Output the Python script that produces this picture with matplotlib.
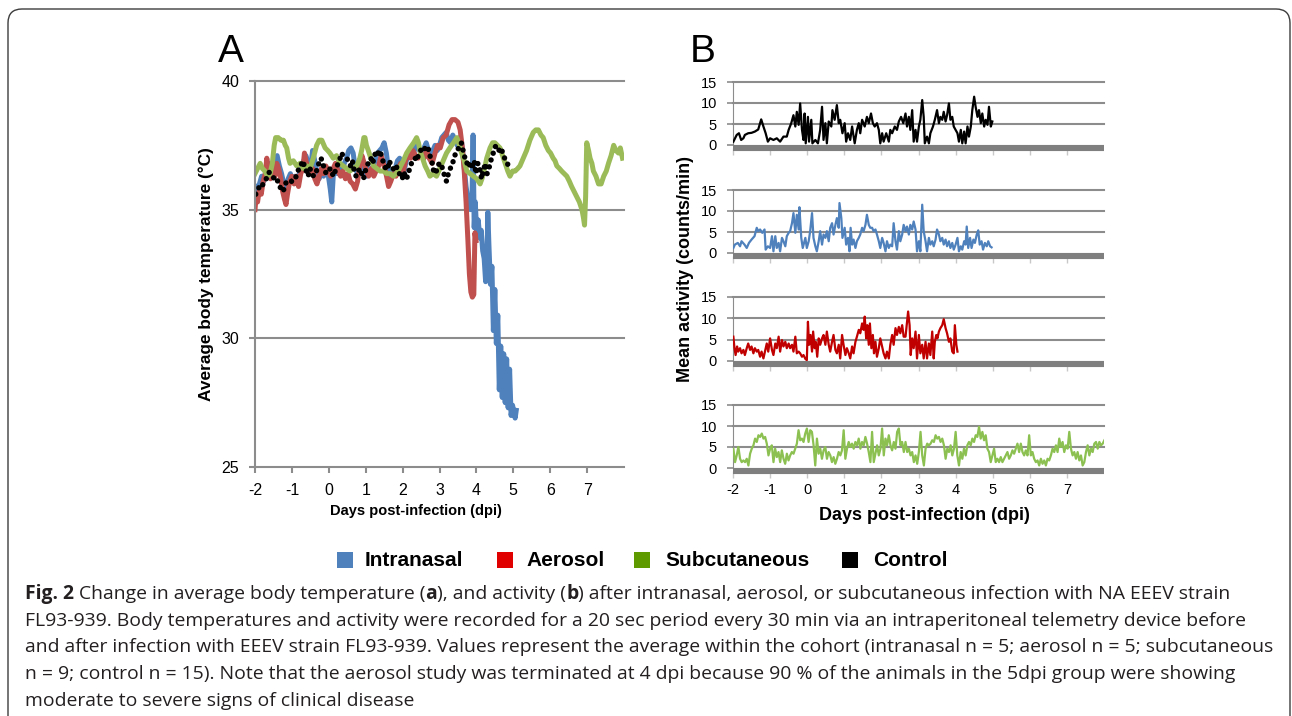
import numpy as np
import matplotlib
matplotlib.use("Agg")
import matplotlib.pyplot as plt
from matplotlib.patches import FancyBboxPatch, Rectangle
from matplotlib.transforms import IdentityTransform

# ---------------------------------------------------------------- data
# Average body temperature (deg C): columns = day post-infection, value
temp_intranasal = np.array([
    (-2.00, 35.9), (-1.94, 35.7), (-1.88, 36.0), (-1.82, 36.3), (-1.76, 36.1), (-1.70, 36.6),
    (-1.64, 36.4), (-1.58, 36.8), (-1.52, 36.6), (-1.46, 37.0), (-1.40, 37.1), (-1.34, 36.7),
    (-1.28, 36.4), (-1.22, 36.0), (-1.16, 35.9), (-1.10, 36.2), (-1.04, 36.4), (-0.98, 36.1),
    (-0.92, 36.3), (-0.86, 36.0), (-0.80, 36.4), (-0.74, 36.6), (-0.68, 36.9), (-0.62, 37.1),
    (-0.56, 36.8), (-0.50, 36.5), (-0.44, 37.3), (-0.38, 36.9), (-0.32, 36.4), (-0.26, 36.2),
    (-0.20, 36.5), (-0.14, 36.3), (-0.08, 36.6), (-0.02, 36.4), (0.04, 35.8), (0.08, 35.3),
    (0.12, 36.3), (0.18, 36.6), (0.24, 36.4), (0.30, 36.7), (0.36, 36.5), (0.42, 36.8),
    (0.48, 37.0), (0.54, 37.3), (0.60, 37.4), (0.66, 37.2), (0.72, 36.6), (0.78, 36.4),
    (0.84, 36.9), (0.90, 37.0), (0.96, 36.6), (1.02, 36.3), (1.08, 36.6), (1.14, 36.4),
    (1.20, 36.7), (1.26, 36.9), (1.32, 37.2), (1.38, 37.3), (1.44, 37.4), (1.50, 37.6),
    (1.56, 37.2), (1.62, 36.5), (1.68, 36.2), (1.74, 36.4), (1.80, 36.6), (1.86, 36.9),
    (1.92, 37.0), (1.98, 36.7), (2.04, 36.5), (2.10, 36.9), (2.16, 37.1), (2.22, 37.3),
    (2.28, 37.1), (2.34, 37.4), (2.40, 37.5), (2.46, 37.3), (2.52, 37.1), (2.58, 37.4),
    (2.64, 37.6), (2.70, 37.3), (2.76, 37.0), (2.82, 37.3), (2.88, 37.5), (2.94, 37.3),
    (3.00, 37.5), (3.06, 37.8), (3.12, 37.9), (3.18, 38.0), (3.24, 37.7), (3.30, 37.6),
    (3.36, 37.9), (3.42, 37.7), (3.48, 37.5), (3.54, 37.8), (3.60, 37.6), (3.66, 36.8),
    (3.72, 35.9), (3.78, 35.3), (3.84, 35.0), (3.88, 35.4), (3.91, 37.9), (3.94, 34.3),
    (3.97, 35.3), (4.01, 34.0), (4.05, 34.6), (4.09, 33.9), (4.13, 34.2), (4.17, 33.4),
    (4.21, 33.1), (4.25, 32.2), (4.28, 32.7), (4.31, 34.9), (4.34, 33.6), (4.38, 32.1),
    (4.42, 32.8), (4.46, 30.3), (4.50, 31.9), (4.54, 29.8), (4.58, 30.9), (4.62, 28.0),
    (4.66, 29.7), (4.70, 27.7), (4.74, 29.4), (4.78, 27.5), (4.82, 29.2), (4.86, 27.3),
    (4.90, 28.8), (4.94, 27.0), (4.98, 27.4), (5.02, 27.1), (5.05, 26.9), (5.08, 27.2),
])

temp_aerosol = np.array([
    (-2.00, 35.0), (-1.97, 35.5), (-1.93, 35.3), (-1.88, 35.8), (-1.83, 35.6), (-1.78, 36.1),
    (-1.72, 36.4), (-1.68, 37.0), (-1.64, 36.6), (-1.58, 36.2), (-1.52, 36.5), (-1.46, 36.3),
    (-1.41, 36.8), (-1.36, 36.6), (-1.30, 36.2), (-1.25, 35.7), (-1.20, 35.4), (-1.16, 35.2),
    (-1.12, 35.6), (-1.06, 36.1), (-1.00, 36.3), (-0.94, 36.0), (-0.88, 36.3), (-0.82, 35.9),
    (-0.76, 36.4), (-0.70, 36.6), (-0.66, 37.2), (-0.62, 36.9), (-0.56, 36.6), (-0.50, 36.4),
    (-0.44, 36.6), (-0.38, 36.2), (-0.32, 36.0), (-0.26, 36.3), (-0.20, 36.6), (-0.14, 36.4),
    (-0.08, 36.7), (-0.02, 36.5), (0.05, 36.3), (0.12, 36.6), (0.18, 36.8), (0.25, 36.5),
    (0.32, 36.3), (0.38, 36.5), (0.45, 36.2), (0.52, 36.4), (0.58, 36.1), (0.65, 36.0),
    (0.72, 35.8), (0.78, 36.1), (0.84, 36.7), (0.90, 37.1), (0.96, 36.8), (1.02, 36.5),
    (1.08, 36.3), (1.15, 36.6), (1.22, 36.3), (1.28, 36.5), (1.35, 36.7), (1.42, 37.1),
    (1.48, 36.8), (1.55, 36.4), (1.62, 35.9), (1.68, 36.1), (1.75, 36.4), (1.82, 36.3),
    (1.88, 36.6), (1.95, 36.8), (2.02, 36.5), (2.08, 36.9), (2.15, 37.2), (2.22, 37.0),
    (2.28, 37.3), (2.35, 37.1), (2.42, 37.0), (2.50, 37.2), (2.58, 37.0), (2.65, 37.3),
    (2.72, 37.0), (2.80, 36.8), (2.88, 37.2), (2.95, 37.5), (3.02, 37.4), (3.10, 37.8),
    (3.18, 37.9), (3.26, 38.3), (3.34, 38.5), (3.42, 38.5), (3.50, 38.4), (3.56, 38.1),
    (3.62, 37.4), (3.67, 36.5), (3.72, 35.3), (3.77, 33.8), (3.81, 32.5), (3.85, 31.8),
    (3.89, 31.6), (3.93, 31.7), (3.96, 34.1), (3.99, 33.8),
])

temp_subcutaneous = np.array([
    (-2.00, 36.4), (-1.93, 36.6), (-1.86, 36.8), (-1.80, 36.6), (-1.73, 36.5), (-1.66, 36.3),
    (-1.59, 36.4), (-1.53, 36.8), (-1.48, 37.5), (-1.44, 37.8), (-1.37, 37.8), (-1.30, 37.7),
    (-1.23, 37.7), (-1.18, 37.5), (-1.14, 37.4), (-1.09, 37.0), (-1.05, 36.8), (-0.96, 36.9),
    (-0.87, 36.7), (-0.78, 36.8), (-0.69, 36.6), (-0.60, 36.7), (-0.51, 36.6), (-0.42, 37.0),
    (-0.33, 37.5), (-0.26, 37.7), (-0.19, 37.7), (-0.10, 37.4), (-0.03, 37.3), (0.03, 37.2),
    (0.12, 37.0), (0.21, 37.1), (0.30, 36.8), (0.39, 36.7), (0.48, 36.6), (0.57, 36.5),
    (0.66, 36.6), (0.76, 36.7), (0.84, 37.0), (0.89, 37.3), (0.95, 37.8), (0.98, 37.8),
    (1.02, 37.5), (1.07, 37.3), (1.14, 37.0), (1.21, 36.7), (1.30, 36.6), (1.39, 36.5),
    (1.48, 36.5), (1.57, 36.4), (1.66, 36.4), (1.75, 36.3), (1.82, 36.4), (1.88, 36.5),
    (1.95, 36.7), (2.02, 36.9), (2.11, 37.2), (2.20, 37.4), (2.30, 37.6), (2.38, 37.8),
    (2.43, 37.6), (2.47, 37.3), (2.54, 37.0), (2.61, 36.7), (2.68, 36.5), (2.74, 36.3),
    (2.83, 36.4), (2.92, 36.3), (3.01, 36.6), (3.10, 36.9), (3.19, 37.2), (3.28, 37.4),
    (3.38, 37.6), (3.47, 37.8), (3.54, 37.5), (3.60, 37.2), (3.67, 36.9), (3.74, 36.5),
    (3.83, 36.4), (3.92, 36.3), (4.01, 36.2), (4.10, 36.0), (4.15, 36.2), (4.19, 36.4),
    (4.28, 37.0), (4.37, 37.4), (4.44, 37.6), (4.50, 37.6), (4.57, 37.5), (4.64, 37.4),
    (4.71, 37.1), (4.78, 36.8), (4.85, 36.5), (4.91, 36.3), (4.98, 36.5), (5.05, 36.5),
    (5.12, 36.6), (5.18, 36.7), (5.27, 37.0), (5.36, 37.3), (5.45, 37.7), (5.54, 38.0),
    (5.61, 38.1), (5.68, 38.1), (5.75, 37.9), (5.81, 37.8), (5.88, 37.5), (5.95, 37.3),
    (6.01, 37.2), (6.08, 37.0), (6.13, 36.9), (6.18, 36.7), (6.25, 36.6), (6.31, 36.5),
    (6.38, 36.4), (6.45, 36.3), (6.52, 36.1), (6.58, 35.9), (6.65, 35.7), (6.72, 35.5),
    (6.79, 35.3), (6.86, 35.0), (6.90, 34.7), (6.93, 34.4), (6.96, 35.5), (6.99, 37.6),
    (7.04, 37.3), (7.08, 37.0), (7.13, 36.8), (7.17, 36.5), (7.24, 36.3), (7.31, 36.0),
    (7.38, 36.0), (7.45, 36.3), (7.52, 36.5), (7.58, 36.8), (7.65, 37.1), (7.72, 37.5),
    (7.78, 37.3), (7.85, 37.2), (7.90, 37.4), (7.96, 37.0),
])

temp_control = np.array([
    (-1.98, 35.6), (-1.93, 35.75), (-1.88, 35.9), (-1.83, 35.85), (-1.78, 36.0), (-1.72, 36.1),
    (-1.67, 36.3), (-1.62, 36.45), (-1.57, 36.4), (-1.52, 36.3), (-1.46, 36.15), (-1.41, 36.2),
    (-1.36, 36.0), (-1.31, 35.85), (-1.26, 35.7), (-1.21, 35.8), (-1.16, 36.05), (-1.11, 36.1),
    (-1.06, 36.15), (-1.01, 36.1), (-0.96, 36.2), (-0.91, 36.2), (-0.86, 36.4), (-0.81, 36.6),
    (-0.76, 36.7), (-0.71, 36.9), (-0.66, 36.7), (-0.61, 36.5), (-0.56, 36.3), (-0.51, 36.6),
    (-0.46, 36.4), (-0.41, 36.3), (-0.36, 36.4), (-0.31, 36.6), (-0.26, 36.85), (-0.21, 37.0),
    (-0.16, 36.8), (-0.11, 36.5), (-0.06, 36.4), (-0.01, 36.5), (0.04, 36.6), (0.09, 36.4),
    (0.14, 36.3), (0.19, 36.6), (0.24, 36.75), (0.29, 36.9), (0.34, 37.2), (0.39, 37.1),
    (0.44, 37.05), (0.49, 37.0), (0.54, 36.85), (0.59, 36.7), (0.64, 36.9), (0.69, 36.5),
    (0.74, 36.3), (0.79, 36.45), (0.84, 36.6), (0.89, 36.4), (0.94, 36.2), (0.99, 36.5),
    (1.04, 36.7), (1.09, 36.9), (1.14, 37.0), (1.19, 36.8), (1.24, 37.1), (1.29, 37.3),
    (1.34, 37.2), (1.39, 37.3), (1.44, 37.0), (1.49, 36.8), (1.54, 36.6), (1.59, 36.55),
    (1.64, 36.9), (1.69, 36.7), (1.74, 36.6), (1.79, 36.5), (1.84, 36.65), (1.89, 36.5),
    (1.94, 36.3), (1.99, 36.2), (2.04, 36.45), (2.09, 36.2), (2.14, 36.3), (2.19, 36.6),
    (2.24, 36.8), (2.29, 36.95), (2.34, 37.0), (2.39, 36.9), (2.44, 37.2), (2.49, 37.3),
    (2.54, 37.45), (2.59, 37.4), (2.64, 37.3), (2.69, 37.4), (2.74, 37.1), (2.79, 36.9),
    (2.84, 36.5), (2.89, 36.4), (2.94, 36.6), (2.99, 36.8), (3.04, 36.8), (3.09, 36.55),
    (3.14, 36.3), (3.19, 36.1), (3.24, 36.4), (3.29, 36.6), (3.34, 36.7), (3.39, 37.0),
    (3.44, 37.2), (3.49, 37.3), (3.54, 37.5), (3.59, 37.6), (3.64, 37.3), (3.69, 37.0),
    (3.74, 36.8), (3.79, 36.9), (3.84, 36.6), (3.89, 36.7), (3.94, 36.9), (3.99, 36.4),
    (4.04, 36.8), (4.09, 36.6), (4.14, 36.2), (4.19, 36.5), (4.24, 36.8), (4.29, 36.4),
    (4.34, 36.6), (4.39, 36.9), (4.44, 37.1), (4.49, 37.4), (4.54, 37.5), (4.59, 37.4),
    (4.64, 37.2), (4.69, 37.3), (4.74, 37.1), (4.79, 36.9), (4.84, 36.8), (4.89, 36.6),
])

# Mean activity (counts/min): columns = day post-infection, value
act_control = np.array([
    (-1.99, 0.8), (-1.90, 2.4), (-1.84, 2.8), (-1.78, 1.2), (-1.72, 1.6), (-1.68, 2.4), (-1.59, 2.8), (-1.50, 2.9),
    (-1.41, 3.2), (-1.32, 3.7), (-1.24, 6.1), (-1.18, 4.4), (-1.12, 2.8), (-1.06, 0.8), (-1.00, 1.6), (-0.91, 1.2),
    (-0.82, 1.6), (-0.73, 0.8), (-0.64, 2.0), (-0.55, 2.0), (-0.50, 3.6), (-0.43, 5.2), (-0.37, 7.1), (-0.32, 4.4),
    (-0.28, 7.9), (-0.23, 4.8), (-0.19, 9.9), (-0.14, 3.6), (-0.10, 1.2), (-0.07, 7.5), (-0.04, 0.4), (0.02, 6.7),
    (0.05, 0.8), (0.11, 6.0), (0.14, 0.4), (0.22, 1.2), (0.29, 0.4), (0.35, 3.6), (0.40, 9.1), (0.44, 1.2),
    (0.49, 5.2), (0.53, 0.4), (0.58, 5.6), (0.65, 4.4), (0.68, 8.3), (0.74, 6.0), (0.80, 9.5), (0.85, 5.2),
    (0.89, 6.0), (0.95, 2.8), (1.01, 5.2), (1.05, 0.8), (1.10, 2.8), (1.16, 1.2), (1.21, 4.4), (1.28, 0.4),
    (1.34, 3.6), (1.39, 5.2), (1.43, 2.8), (1.48, 6.0), (1.55, 4.4), (1.61, 6.7), (1.66, 5.2), (1.72, 7.5),
    (1.77, 5.2), (1.82, 4.4), (1.88, 5.2), (1.93, 3.6), (1.97, 0.4), (2.02, 2.8), (2.06, 0.8), (2.13, 2.8),
    (2.20, 0.8), (2.24, 3.6), (2.29, 2.8), (2.36, 4.4), (2.42, 3.6), (2.47, 5.6), (2.53, 6.7), (2.59, 5.2),
    (2.65, 7.5), (2.69, 4.4), (2.74, 6.7), (2.78, 3.6), (2.83, 8.3), (2.87, 0.8), (2.92, 3.6), (2.96, 0.8),
    (3.01, 4.4), (3.05, 6.0), (3.10, 10.7), (3.14, 6.7), (3.17, 0.4), (3.23, 2.0), (3.28, 0.4), (3.32, 2.8),
    (3.39, 4.4), (3.44, 6.0), (3.50, 8.3), (3.55, 5.2), (3.59, 6.7), (3.64, 6.0), (3.68, 7.9), (3.73, 5.6),
    (3.77, 7.1), (3.82, 9.9), (3.86, 6.0), (3.91, 6.7), (3.95, 4.4), (4.00, 3.6), (4.05, 2.8), (4.09, 0.8),
    (4.14, 3.6), (4.18, 0.4), (4.23, 3.2), (4.27, 0.4), (4.32, 4.4), (4.36, 2.0), (4.41, 4.4), (4.45, 8.3),
    (4.50, 11.5), (4.54, 9.1), (4.59, 6.7), (4.63, 8.3), (4.68, 5.2), (4.72, 7.5), (4.77, 4.4), (4.81, 6.0),
    (4.86, 4.8), (4.90, 9.1), (4.95, 4.4), (4.99, 5.6),
])

act_intranasal = np.array([
    (-1.99, 1.2), (-1.95, 2.0), (-1.87, 2.4), (-1.81, 1.6), (-1.77, 2.8), (-1.69, 2.0), (-1.63, 1.2), (-1.57, 2.4),
    (-1.50, 3.2), (-1.42, 4.0), (-1.36, 6.0), (-1.32, 5.2), (-1.27, 5.6), (-1.21, 4.8), (-1.15, 5.6), (-1.12, 0.8),
    (-1.06, 1.6), (-1.00, 1.2), (-0.95, 4.0), (-0.91, 0.4), (-0.86, 4.0), (-0.82, 1.2), (-0.77, 2.4), (-0.73, 0.4),
    (-0.68, 3.6), (-0.64, 2.8), (-0.59, 1.6), (-0.55, 4.0), (-0.50, 4.8), (-0.46, 5.2), (-0.41, 7.1), (-0.37, 9.5),
    (-0.32, 4.8), (-0.28, 9.1), (-0.23, 5.6), (-0.21, 10.9), (-0.16, 3.6), (-0.12, 1.2), (-0.05, 3.6), (-0.01, 1.2),
    (0.04, 2.8), (0.08, 5.2), (0.13, 9.5), (0.17, 3.6), (0.22, 1.6), (0.26, 0.4), (0.31, 2.8), (0.35, 5.2),
    (0.40, 2.0), (0.44, 4.4), (0.49, 3.6), (0.53, 5.2), (0.58, 2.8), (0.62, 6.0), (0.67, 7.1), (0.71, 4.4),
    (0.76, 6.7), (0.80, 8.3), (0.85, 6.0), (0.87, 11.9), (0.92, 8.3), (0.95, 3.6), (1.01, 6.0), (1.05, 2.0),
    (1.10, 3.6), (1.14, 0.4), (1.17, 6.0), (1.21, 2.0), (1.25, 3.2), (1.30, 1.2), (1.34, 2.8), (1.39, 3.6),
    (1.43, 4.4), (1.48, 6.0), (1.52, 5.2), (1.57, 6.7), (1.61, 9.1), (1.66, 6.7), (1.70, 6.0), (1.75, 6.0),
    (1.79, 5.2), (1.84, 5.6), (1.88, 4.4), (1.93, 2.8), (1.97, 1.2), (2.02, 3.6), (2.06, 2.4), (2.11, 0.4),
    (2.15, 2.8), (2.20, 1.2), (2.24, 2.0), (2.29, 1.6), (2.33, 7.1), (2.38, 2.8), (2.42, 0.8), (2.47, 5.2),
    (2.51, 2.8), (2.56, 4.4), (2.60, 6.7), (2.65, 5.2), (2.69, 6.3), (2.74, 4.4), (2.78, 6.7), (2.83, 5.6),
    (2.87, 7.5), (2.92, 5.6), (2.96, 0.4), (3.01, 2.8), (3.05, 0.4), (3.10, 11.5), (3.14, 5.2), (3.19, 2.8),
    (3.23, 0.4), (3.28, 3.6), (3.32, 2.0), (3.37, 2.8), (3.41, 1.6), (3.46, 3.2), (3.50, 5.6), (3.55, 4.4),
    (3.59, 2.8), (3.64, 3.6), (3.68, 2.0), (3.73, 3.2), (3.77, 1.6), (3.82, 2.8), (3.86, 1.2), (3.91, 2.4),
    (3.95, 0.8), (4.00, 2.0), (4.05, 3.6), (4.09, 0.4), (4.14, 1.6), (4.18, 0.8), (4.23, 2.8), (4.27, 2.0),
    (4.30, 6.3), (4.34, 1.2), (4.39, 3.6), (4.43, 1.2), (4.48, 3.2), (4.52, 2.4), (4.57, 4.4), (4.61, 5.4),
    (4.65, 2.0), (4.70, 2.8), (4.74, 0.8), (4.79, 2.4), (4.84, 1.6), (4.88, 2.8), (4.93, 1.6), (4.97, 1.35),
])

act_aerosol = np.array([
    (-1.99, 5.7), (-1.96, 3.0), (-1.93, 1.4), (-1.89, 3.4), (-1.86, 2.2), (-1.81, 3.0), (-1.77, 1.8), (-1.72, 2.6),
    (-1.68, 1.4), (-1.63, 3.0), (-1.59, 4.1), (-1.54, 2.6), (-1.50, 3.4), (-1.45, 1.8), (-1.41, 3.0), (-1.36, 2.2),
    (-1.32, 2.6), (-1.27, 1.0), (-1.23, 2.2), (-1.18, 0.6), (-1.14, 2.2), (-1.09, 4.1), (-1.05, 2.2), (-1.00, 5.3),
    (-0.95, 2.6), (-0.91, 1.4), (-0.86, 4.1), (-0.82, 3.0), (-0.77, 5.7), (-0.73, 2.2), (-0.68, 4.9), (-0.64, 3.4),
    (-0.59, 4.5), (-0.55, 3.0), (-0.50, 4.1), (-0.46, 3.0), (-0.41, 3.8), (-0.37, 2.2), (-0.32, 5.7), (-0.28, 1.8),
    (-0.23, 2.2), (-0.19, 1.8), (-0.14, 1.0), (-0.10, 1.4), (-0.05, 0.5), (-0.01, 0.2), (0.02, 9.2), (0.05, 3.8),
    (0.09, 6.1), (0.13, 2.2), (0.16, 6.9), (0.20, 3.0), (0.23, 4.5), (0.27, 1.0), (0.31, 5.3), (0.35, 3.8),
    (0.40, 5.3), (0.44, 6.1), (0.49, 3.8), (0.53, 6.9), (0.58, 3.8), (0.62, 2.2), (0.67, 4.5), (0.71, 6.1),
    (0.76, 2.6), (0.80, 1.8), (0.85, 3.8), (0.89, 0.6), (0.94, 6.1), (0.98, 3.8), (1.03, 1.4), (1.07, 3.0),
    (1.12, 1.8), (1.16, 0.6), (1.21, 3.4), (1.25, 1.8), (1.30, 4.5), (1.34, 5.7), (1.39, 7.3), (1.43, 6.5),
    (1.48, 8.8), (1.52, 7.3), (1.55, 10.4), (1.59, 5.3), (1.62, 8.4), (1.66, 3.8), (1.69, 8.8), (1.73, 3.0),
    (1.77, 6.1), (1.80, 1.8), (1.84, 4.5), (1.88, 1.0), (1.93, 3.0), (1.97, 5.3), (2.02, 3.4), (2.06, 1.8),
    (2.11, 0.6), (2.15, 2.2), (2.20, 0.6), (2.24, 3.8), (2.29, 6.1), (2.33, 3.8), (2.38, 7.7), (2.42, 6.1),
    (2.47, 8.0), (2.51, 6.5), (2.56, 8.4), (2.60, 5.7), (2.65, 5.7), (2.69, 9.2), (2.72, 11.6), (2.76, 8.4),
    (2.79, 1.4), (2.83, 5.3), (2.87, 3.0), (2.92, 6.9), (2.96, 0.6), (3.01, 6.1), (3.05, 1.8), (3.10, 3.8),
    (3.14, 0.6), (3.19, 4.5), (3.23, 0.6), (3.28, 4.1), (3.32, 1.4), (3.37, 6.9), (3.41, 0.6), (3.44, 4.5),
    (3.48, 6.1), (3.51, 5.3), (3.55, 6.9), (3.59, 7.7), (3.64, 8.4), (3.68, 9.8), (3.73, 7.7), (3.77, 6.5),
    (3.82, 4.5), (3.86, 5.3), (3.91, 2.2), (3.95, 1.8), (3.98, 8.4), (4.02, 3.8), (4.05, 2.2),
])

# Subcutaneous activity: one reading every 0.045 day from -1.99 to 8.01 dpi
act_subcutaneous_start, act_subcutaneous_end = -1.99, 8.01
act_subcutaneous = [
    4.6, 1.4, 3.0, 5.0, 2.2, 1.4, 1.8, 1.4, 2.2, 0.6,
    3.4, 4.6, 5.4, 7.0, 6.2, 7.8, 7.4, 8.2, 7.0, 7.4,
    5.8, 3.0, 4.6, 5.4, 1.4, 4.6, 2.6, 3.8, 1.4, 4.2,
    2.2, 1.0, 3.4, 1.8, 3.0, 3.8, 3.4, 4.6, 5.8, 9.0,
    6.6, 7.0, 6.2, 8.2, 9.4, 6.2, 9.0, 8.6, 5.4, 0.6,
    7.0, 3.4, 4.6, 2.2, 4.2, 5.0, 2.2, 3.8, 3.0, 1.4,
    2.6, 1.0, 2.2, 3.8, 3.0, 4.2, 9.0, 2.2, 4.6, 6.2,
    5.0, 5.8, 4.6, 6.2, 5.4, 7.0, 4.6, 6.2, 5.4, 7.4,
    5.8, 3.8, 1.4, 8.6, 1.4, 3.4, 5.4, 3.0, 4.6, 9.4,
    3.0, 7.0, 5.4, 7.8, 5.4, 4.2, 6.2, 4.6, 8.6, 9.4,
    5.4, 6.2, 3.8, 6.2, 3.8, 4.6, 3.0, 3.8, 1.4, 3.0,
    1.0, 3.8, 8.6, 3.0, 0.6, 4.6, 5.8, 5.4, 5.8, 6.6,
    6.2, 7.8, 7.0, 7.4, 6.2, 7.0, 5.4, 2.2, 4.6, 3.8,
    5.4, 3.0, 4.6, 8.6, 3.0, 0.6, 3.8, 2.2, 4.6, 3.0,
    5.4, 6.2, 5.4, 7.0, 6.2, 7.8, 7.4, 9.8, 7.0, 8.6,
    6.6, 7.8, 4.6, 3.8, 1.4, 3.0, 4.6, 1.4, 2.2, 1.4,
    2.6, 1.4, 2.2, 3.0, 3.8, 2.2, 3.0, 4.2, 3.4, 4.6,
    5.8, 3.8, 5.8, 3.8, 3.0, 4.2, 3.0, 7.8, 3.0, 3.8,
    2.2, 1.4, 1.8, 0.6, 2.2, 1.0, 1.8, 0.6, 2.2, 1.8,
    3.0, 4.6, 3.8, 5.4, 3.8, 7.0, 5.0, 6.2, 3.8, 5.4,
    4.6, 8.6, 4.6, 3.0, 3.8, 2.2, 3.8, 1.8, 3.0, 0.6,
    1.4, 3.8, 5.4, 3.0, 4.6, 3.8, 5.8, 6.2, 4.6, 6.2,
    5.4, 5.8, 6.6,
]

days_ticks = [-2, -1, 0, 1, 2, 3, 4, 5, 6, 7]
temp_ticks = [25, 30, 35, 40]
act_ticks = [0, 5, 10, 15]
groups = ["Intranasal", "Aerosol", "Subcutaneous", "Control"]
legend_colors = ["#4F81BD", "#E00000", "#5E9A00", "#000000"]

caption_lines = [
    [("Fig. 2", True), (" Change in average body temperature (", False), ("a", True),
     ("), and activity (", False), ("b", True),
     (") after intranasal, aerosol, or subcutaneous infection with NA EEEV strain", False)],
    [("FL93-939. Body temperatures and activity were recorded for a 20 sec period every 30 min "
      "via an intraperitoneal telemetry device before", False)],
    [("and after infection with EEEV strain FL93-939. Values represent the average within the "
      "cohort (intranasal n = 5; aerosol n = 5; subcutaneous", False)],
    [("n = 9; control n = 15). Note that the aerosol study was terminated at 4 dpi because 90 % "
      "of the animals in the 5dpi group were showing", False)],
    [("moderate to severe signs of clinical disease", False)],
]

# ---------------------------------------------------------------- style
W, H, DPI = 1292, 716, 100
GRID = "#8C8C8C"
BAR = "#7F7F7F"
C_BLUE = "#4F81BD"
C_RED_T = "#C0504D"
C_GREEN_T = "#9BBB59"
C_RED_A = "#C00000"
C_GREEN_A = "#8CC152"
CHART_FONT = "Liberation Sans"
CAPTION_FONT = "Open Sans"

plt.rcParams["font.family"] = [CHART_FONT, "DejaVu Sans"]
plt.rcParams["axes.unicode_minus"] = False

fig = plt.figure(figsize=(W / DPI, H / DPI), dpi=DPI)
fig.patch.set_facecolor("white")


def px_axes(left, top, right, bottom):
    return fig.add_axes([left / W, 1 - bottom / H, (right - left) / W, (bottom - top) / H])


def px_text(x, y, s, **kw):
    return fig.text(x / W, 1 - y / H, s, **kw)


# rounded frame around the whole figure
frame = FancyBboxPatch((8, -40), 1282, (H - 9) + 40,
                       boxstyle="round,pad=0,rounding_size=14",
                       transform=IdentityTransform(), fill=False,
                       edgecolor="#3C3C3C", linewidth=1.0)
fig.add_artist(frame)

# ---------------------------------------------------------------- panel A
axA = px_axes(255, 81, 624, 467)
axA.set_xlim(-2, 8)
axA.set_ylim(25, 40)
for s in ("top", "right"):
    axA.spines[s].set_visible(False)
for s in ("left", "bottom"):
    axA.spines[s].set_color(GRID)
    axA.spines[s].set_linewidth(1.5)
for v in temp_ticks[1:]:
    axA.axhline(v, color=GRID, lw=1.5, zorder=0.5, clip_on=False)
axA.set_xticks(days_ticks)
axA.set_yticks(temp_ticks)
axA.tick_params(axis="both", colors=GRID, width=1.5, length=4.5, labelcolor="black",
                labelsize=11.5, pad=7)
axA.plot(temp_intranasal[:, 0], temp_intranasal[:, 1], color=C_BLUE, lw=3.6,
         solid_joinstyle="round", zorder=2)
axA.plot(temp_aerosol[:, 0], temp_aerosol[:, 1], color=C_RED_T, lw=3.6,
         solid_joinstyle="round", zorder=2.1)
axA.plot(temp_subcutaneous[:, 0], temp_subcutaneous[:, 1], color=C_GREEN_T, lw=3.6,
         solid_joinstyle="round", zorder=2.2)
# control drawn as a round-dot line
axA.plot(temp_control[:, 0], temp_control[:, 1], color="black", lw=3.9,
         linestyle=(0, (0.01, 1.3)), dash_capstyle="round", zorder=2.3)
px_text(416, 511, "Days post-infection (dpi)", fontsize=10.5, fontweight="bold",
        ha="center", va="center")
px_text(206, 274, "Average body temperature (\u00b0C)", rotation=90, fontsize=12.4,
        fontweight="bold", ha="center", va="center")
px_text(218, 62, "A", fontsize=28, ha="left", va="baseline")

# ---------------------------------------------------------------- panel B
rows = [(82, 145), (190, 253), (297, 361), (405, 468)]
sc_days = np.linspace(act_subcutaneous_start, act_subcutaneous_end, len(act_subcutaneous))
series_b = [
    (act_control[:, 0], act_control[:, 1], "black"),
    (act_intranasal[:, 0], act_intranasal[:, 1], C_BLUE),
    (act_aerosol[:, 0], act_aerosol[:, 1], C_RED_A),
    (sc_days, np.asarray(act_subcutaneous), C_GREEN_A),
]
for i, ((top, bot), (xs, ys, col)) in enumerate(zip(rows, series_b)):
    ax = px_axes(733, top, 1104, bot)
    ax.set_xlim(-2, 8)
    ax.set_ylim(0, 15)
    for s in ("top", "right"):
        ax.spines[s].set_visible(False)
    ax.spines["left"].set_color(GRID)
    ax.spines["left"].set_linewidth(0.8)
    ax.spines["bottom"].set_color(BAR)
    ax.spines["bottom"].set_linewidth(4.4)
    ax.spines["bottom"].set_position(("outward", 2.2))
    ax.spines["bottom"].set_capstyle("butt")
    for v in act_ticks[1:]:
        ax.axhline(v, color=GRID, lw=1.5, zorder=0.5, clip_on=False)
    ax.set_yticks(act_ticks)
    ax.set_xticks(days_ticks)
    ax.tick_params(axis="y", colors=GRID, width=1.2, length=4, labelcolor="black",
                   labelsize=10.5, pad=7.5)
    ax.tick_params(axis="x", colors="#C8C8C8", width=1.0, length=5, labelcolor="black",
                   labelsize=10.5, pad=3.5, labelbottom=(i == 3))
    ax.plot(xs, ys, color=col, lw=1.6, solid_joinstyle="round", zorder=3)

px_text(924, 515, "Days post-infection (dpi)", fontsize=13, fontweight="bold",
        ha="center", va="center")
px_text(686, 269, "Mean activity (counts/min)", rotation=90, fontsize=13,
        fontweight="bold", ha="center", va="center")
px_text(690, 62, "B", fontsize=28, ha="left", va="baseline")

# ---------------------------------------------------------------- legend
legend_square_x = [337, 497, 634, 842]
legend_text_x = [365, 526, 665, 873]
for name, col, sx, tx in zip(groups, legend_colors, legend_square_x, legend_text_x):
    fig.add_artist(Rectangle((sx, H - 568), 16, 16, transform=IdentityTransform(),
                             facecolor=col, edgecolor="none"))
    px_text(tx, 560, name, fontsize=15, fontweight="bold", ha="left", va="center")

# ---------------------------------------------------------------- caption
fig.canvas.draw()
renderer = fig.canvas.get_renderer()


def text_width(s, size, bold):
    t = fig.text(0, 0, s, fontsize=size, family=CAPTION_FONT,
                 fontweight="bold" if bold else "normal")
    w = t.get_window_extent(renderer=renderer).width
    t.remove()
    return w


cap_size = 13.0
target = 1242 - 25
probe = caption_lines[1][0][0]
cap_size *= target / text_width(probe, cap_size, False)

line_y = [599, 626, 652, 679, 706]
for y, segs in zip(line_y, caption_lines):
    x = 25
    for txt, bold in segs:
        lead = len(txt) - len(txt.lstrip(" "))
        core = txt.strip(" ")
        trail = len(txt.rstrip(" ")) < len(txt)
        sp = text_width("a a", cap_size, bold) - text_width("aa", cap_size, bold)
        x += lead * sp
        t = px_text(x, y, core, fontsize=cap_size, family=CAPTION_FONT,
                    fontweight="bold" if bold else "normal", color="#231F20",
                    ha="left", va="baseline")
        x += t.get_window_extent(renderer=renderer).width
        if trail:
            x += sp

fig.savefig("out.png", dpi=DPI, facecolor="white")
